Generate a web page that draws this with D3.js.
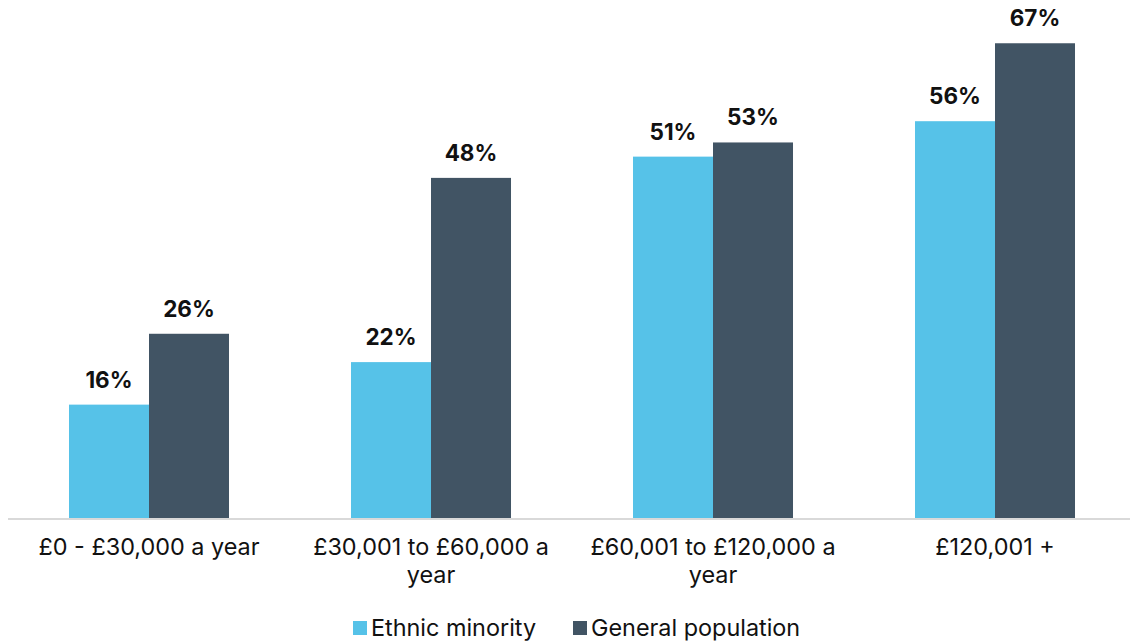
<!DOCTYPE html>
<html><head><meta charset="utf-8">
<script src="https://cdn.jsdelivr.net/npm/d3@7"></script>
<style>body{margin:0;background:#fff;} text{font-family:Inter,"Noto Sans",sans-serif;}</style>
</head><body>
<svg id="c" width="1130" height="643"></svg>
<script>
const categories = ["£0 - £30,000 a year", "£30,001 to £60,000 a year", "£60,001 to £120,000 a year", "£120,001 +"];
const seriesNames = ["Ethnic minority", "General population"];
const ethnicMinority = [16, 22, 51, 56];
const generalPopulation = [26, 48, 53, 67];
const colors = ["#56C2E8", "#415464"];

const svg = d3.select("#c");
const x0 = d3.scaleBand().domain(categories).range([8, 1136]).paddingInner(0.4326).paddingOuter(0.2163);
const x1 = d3.scaleBand().domain(seriesNames).range([0, x0.bandwidth()]);
const y = d3.scaleLinear().domain([0, 70]).range([518, 22]);

const data = categories.map((c, i) => ({cat: c, vals: [ethnicMinority[i], generalPopulation[i]]}));

const g = svg.selectAll("g.grp").data(data).join("g").attr("transform", d => `translate(${x0(d.cat)},0)`);
g.selectAll("rect").data(d => d.vals.map((v, j) => ({s: seriesNames[j], v, j}))).join("rect")
  .attr("x", d => x1(d.s)).attr("width", x1.bandwidth())
  .attr("y", d => y(d.v)).attr("height", d => y(0) - y(d.v))
  .attr("fill", d => colors[d.j]);
g.selectAll("text.val").data(d => d.vals.map((v, j) => ({s: seriesNames[j], v, j}))).join("text")
  .attr("class", "val")
  .attr("x", d => x1(d.s) + x1.bandwidth() / 2).attr("y", d => y(d.v) - 17)
  .attr("text-anchor", "middle").attr("font-size", 22.5).attr("font-weight", 700).attr("fill", "#111")
  .text(d => d.v + "%");

// axis
const axis = svg.append("g").attr("transform", "translate(0,519)")
  .call(d3.axisBottom(x0).tickSize(0).tickPadding(0));
axis.select(".domain").attr("stroke", "#d9d9d9").attr("stroke-width", 2).attr("d", "M8,0H1130");
axis.selectAll(".tick text").remove();
axis.selectAll(".tick").each(function(d) {
  const t = d3.select(this).append("text").attr("text-anchor", "middle").attr("fill", "#111")
    .attr("font-size", 23.4).style("font-family", "Inter, sans-serif").attr("y", 36);
  const words = d.split(" ");
  let line = [];
  let ts = t.append("tspan").attr("x", 0);
  words.forEach(w => {
    line.push(w);
    ts.text(line.join(" "));
    if (ts.node().getComputedTextLength() > 272 && line.length > 1) {
      line.pop(); ts.text(line.join(" "));
      line = [w];
      ts = t.append("tspan").attr("x", 0).attr("dy", 28).text(w);
    }
  });
});

// legend
const lg = svg.append("g").attr("transform", "translate(353,620)");
const items = lg.selectAll("g").data(seriesNames).join("g")
  .attr("transform", (d, i) => `translate(${i === 0 ? 0 : 220},0)`);
items.append("rect").attr("width", 14).attr("height", 14).attr("y", 1).attr("fill", (d, i) => colors[i]);
items.append("text").attr("x", 18).attr("y", 15.5).attr("font-size", 23.4).attr("fill", "#111").text(d => d);
</script>
</body></html>
